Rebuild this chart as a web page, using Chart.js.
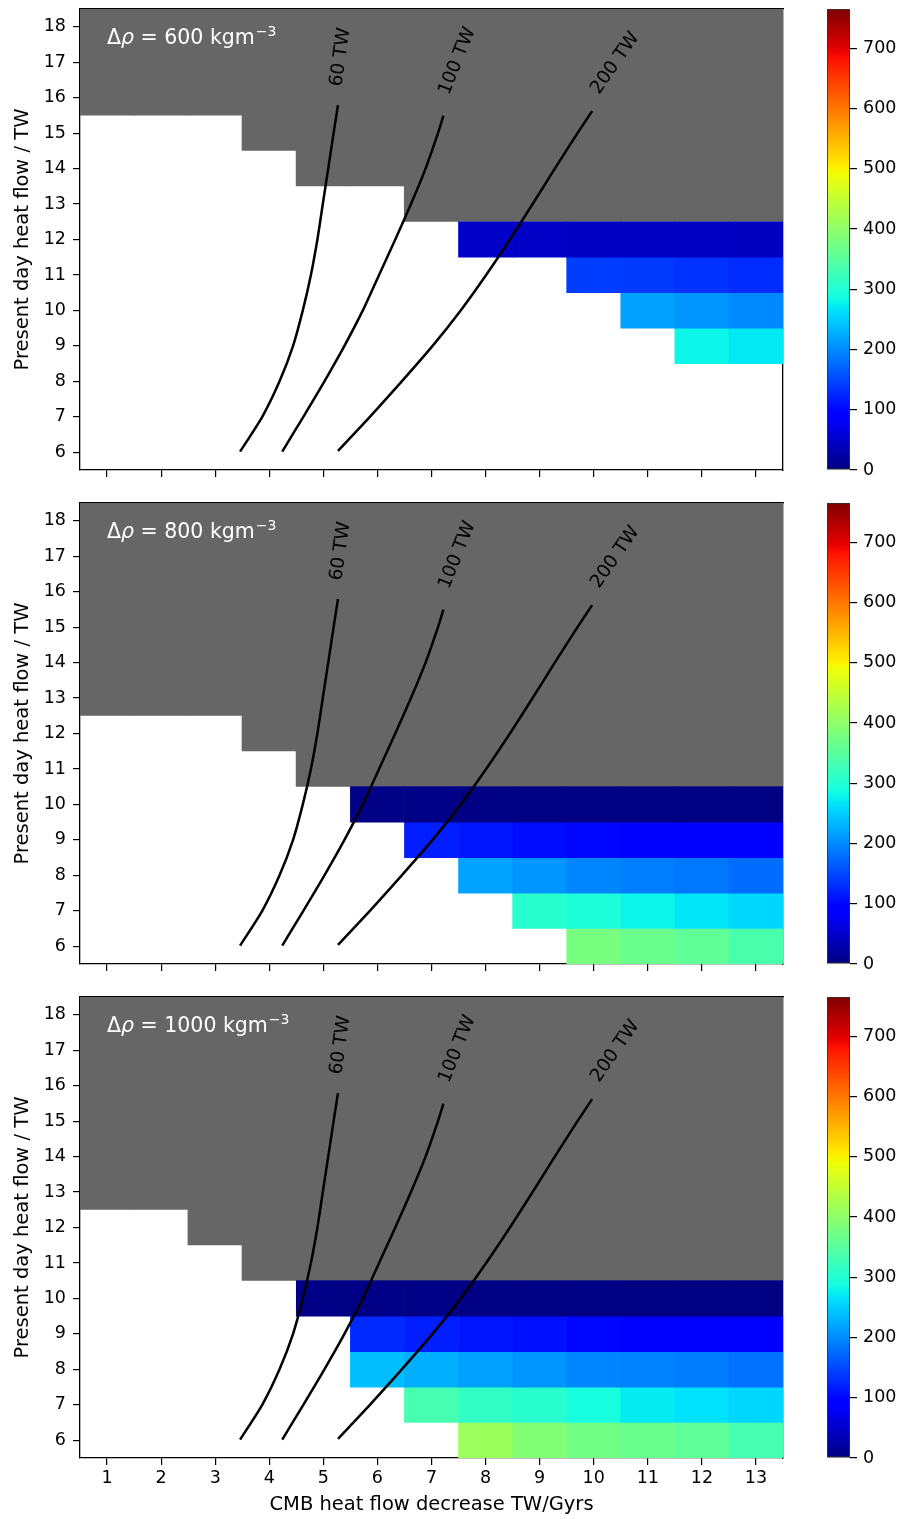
<!DOCTYPE html>
<html>
<head>
<meta charset="utf-8">
<script src="https://cdn.jsdelivr.net/npm/chart.js@4.4.0/dist/chart.umd.min.js"></script>
<style>
  html, body { margin: 0; padding: 0; background: #fff; }
  #fig { position: relative; width: 904px; height: 1519px; }
  canvas { position: absolute; left: 0; }
</style>
</head>
<body>
<div id="fig">
  <canvas id="p600" width="800" height="494" style="top:0px"></canvas>
  <canvas id="c600" width="104" height="494" style="top:0px;left:800px"></canvas>
  <canvas id="p800" width="800" height="494" style="top:494px"></canvas>
  <canvas id="c800" width="104" height="494" style="top:494px;left:800px"></canvas>
  <canvas id="p1000" width="800" height="531" style="top:988px"></canvas>
  <canvas id="c1000" width="104" height="531" style="top:988px;left:800px"></canvas>
</div>
<script>
// ---- data ----
const cols = [1, 2, 3, 4, 5, 6, 7, 8, 9, 10, 11, 12, 13];      // CMB heat flow decrease
const valueRows = [6, 7, 8, 9, 10, 11, 12];                     // present day heat flow
const xTicks = cols;
const yTicks = [6, 7, 8, 9, 10, 11, 12, 13, 14, 15, 16, 17, 18];
const cbarTicks = [0, 100, 200, 300, 400, 500, 600, 700];
const cbarMax = 765;
const yTop = 18.5;

// first masked (grey) row of every column
const grey600 = [16, 16, 16, 15, 14, 14, 13, 13, 13, 13, 13, 13, 13];
const grey800 = [13, 13, 13, 12, 11, 11, 11, 11, 11, 11, 11, 11, 11];
const grey1000 = [13, 13, 12, 11, 11, 11, 11, 11, 11, 11, 11, 11, 11];

// cell values, rows 6..12, columns 1..13 (null = no solution)
const N = null;
const val600 = [
  [N, N, N, N, N, N, N, N, N, N, N, N, N],
  [N, N, N, N, N, N, N, N, N, N, N, N, N],
  [N, N, N, N, N, N, N, N, N, N, N, N, N],
  [N, N, N, N, N, N, N, N, N, N, N, 280, 270],
  [N, N, N, N, N, N, N, N, N, N, 216, 208, 199],
  [N, N, N, N, N, N, N, N, N, 142, 138, 132, 128],
  [N, N, N, N, N, N, N, 48, 47, 46, 45, 44, 43]
];
const val800 = [
  [N, N, N, N, N, N, N, N, N, 379, 366, 357, 337],
  [N, N, N, N, N, N, N, N, 305, 295, 280, 268, 257],
  [N, N, N, N, N, N, N, 219, 208, 197, 191, 185, 177],
  [N, N, N, N, N, N, 118, 112, 104, 99, 95, 92, 88],
  [N, N, N, N, N, 4, 4, 3, 3, 3, 2, 2, 2],
  [N, N, N, N, N, N, N, N, N, N, N, N, N],
  [N, N, N, N, N, N, N, N, N, N, N, N, N]
];
const val1000 = [
  [N, N, N, N, N, N, N, 412, 389, 373, 366, 355, 333],
  [N, N, N, N, N, N, 333, 314, 305, 290, 272, 264, 257],
  [N, N, N, N, N, 238, 227, 216, 208, 197, 193, 189, 181],
  [N, N, N, N, N, 126, 118, 111, 107, 100, 95, 92, 90],
  [N, N, N, N, 4, 4, 4, 3, 3, 3, 2, 2, 2],
  [N, N, N, N, N, N, N, N, N, N, N, N, N],
  [N, N, N, N, N, N, N, N, N, N, N, N, N]
];

// contour lines (same in every panel)
const c60x = [3.46, 3.87, 4.19, 4.44, 4.62, 4.77, 4.89, 4.99, 5.09, 5.19, 5.27];
const c60y = [6.02, 7, 8, 9, 10, 11, 12, 13, 14, 15, 15.79];
const c100x = [4.24, 4.63, 5.02, 5.39, 5.73, 6.03, 6.33, 6.62, 6.89, 7.12, 7.22];
const c100y = [6.02, 7, 8, 9, 10, 11, 12, 13, 14, 15, 15.49];
const c200x = [5.27, 5.86, 6.45, 7.02, 7.54, 8.01, 8.45, 8.87, 9.28, 9.70, 9.97];
const c200y = [6.04, 7, 8, 9, 10, 11, 12, 13, 14, 15, 15.62];

// ---- jet colour map ----
const jetR = [[0, 0], [0.35, 0], [0.66, 1], [0.89, 1], [1, 0.5]];
const jetG = [[0, 0], [0.125, 0], [0.375, 1], [0.64, 1], [0.91, 0], [1, 0]];
const jetB = [[0, 0.5], [0.11, 1], [0.34, 1], [0.65, 0], [1, 0]];
function seg(s, t) {
  for (let i = 1; i < s.length; i++) {
    if (t <= s[i][0]) {
      const [x0, y0] = s[i - 1], [x1, y1] = s[i];
      return y0 + (y1 - y0) * (t - x0) / (x1 - x0);
    }
  }
  return s[s.length - 1][1];
}
function jet(t) {
  t = Math.min(1, Math.max(0, t));
  const c = v => Math.round(255 * v);
  return `rgb(${c(seg(jetR, t))},${c(seg(jetG, t))},${c(seg(jetB, t))})`;
}

const FONT = '"DejaVu Sans", sans-serif';

// text drawn on the plot (contour labels + density)
const contourLabels = [
  { text: '60 TW', x: 5.32, y: 17.14, rot: -82 },
  { text: '100 TW', x: 7.48, y: 17.03, rot: -68 },
  { text: '200 TW', x: 10.40, y: 16.97, rot: -55 }
];
const panelText = {
  id: 'panelText',
  afterDatasetsDraw(chart, args, opts) {
    const { ctx, scales: { x, y } } = chart;
    ctx.save();
    ctx.fillStyle = '#000';
    ctx.textAlign = 'center';
    ctx.textBaseline = 'middle';
    ctx.font = '18.5px ' + FONT;
    contourLabels.forEach(l => {
      ctx.save();
      ctx.translate(x.getPixelForValue(l.x), y.getPixelForValue(l.y));
      ctx.rotate(l.rot * Math.PI / 180);
      ctx.fillText(l.text, 0, 0);
      ctx.restore();
    });
    // Δρ = ... kgm^-3
    let px = x.getPixelForValue(1.0);
    const py = y.getPixelForValue(17.5);
    ctx.fillStyle = '#fff';
    ctx.textAlign = 'left';
    ctx.textBaseline = 'alphabetic';
    const parts = [['Δ', ''], ['ρ', 'italic '], [' = ' + opts.rho + ' kgm', '']];
    parts.forEach(([s, st]) => {
      ctx.font = st + '20.5px ' + FONT;
      ctx.fillText(s, px, py);
      px += ctx.measureText(s).width;
    });
    ctx.font = '14px ' + FONT;
    ctx.fillText('\u22123', px + 1, py - 8.5);
    ctx.restore();
  }
};

function line(xs, ys) {
  return {
    type: 'line',
    data: xs.map((v, i) => ({ x: v, y: ys[i] })),
    borderColor: '#000',
    borderWidth: 2.5,
    pointRadius: 0,
    tension: 0.25,
    xAxisID: 'x', yAxisID: 'y',
    order: 0
  };
}

function makePanel(id, rho, grey, vals, showX) {
  const greyData = cols.map((c, i) => ({ x: c, y: [grey[i] - 0.5, yTop] }));
  const cellData = [], cellColors = [];
  vals.forEach((row, r) => row.forEach((v, i) => {
    if (v === null) return;
    cellData.push({ x: cols[i], y: [valueRows[r] - 0.5, valueRows[r] + 0.5] });
    cellColors.push(jet(v / cbarMax));
  }));

  const tickFont = { family: FONT, size: 17.5 };
  const titleFont = { family: FONT, size: 19.5 };
  const frame = { display: true, color: '#000', width: 1.3 };

  new Chart(document.getElementById(id), {
    type: 'bar',
    data: {
      datasets: [
        line(c60x, c60y),
        line(c100x, c100y),
        line(c200x, c200y),
        {
          data: cellData,
          backgroundColor: cellColors,
          borderWidth: 0,
          grouped: false,
          barPercentage: 1,
          categoryPercentage: 1,
          xAxisID: 'x', yAxisID: 'y',
          order: 1
        },
        {
          data: greyData,
          backgroundColor: '#666666',
          borderWidth: 0,
          grouped: false,
          barPercentage: 1,
          categoryPercentage: 1.02,
          xAxisID: 'x', yAxisID: 'y',
          order: 2
        }
      ]
    },
    options: {
      responsive: false,
      animation: false,
      layout: { padding: 0 },
      plugins: {
        legend: { display: false },
        tooltip: { enabled: false },
        panelText: { rho: rho }
      },
      scales: {
        x: {
          type: 'linear',
          position: 'bottom',
          z: 1,
          min: 0.5,
          max: 13.5,
          offset: false,
          afterBuildTicks: a => { a.ticks = xTicks.map(v => ({ value: v })); },
          afterFit: s => { s.height = showX ? 61 : 24; s.paddingLeft = 0; s.paddingRight = 0; },
          grid: { display: true, drawOnChartArea: false, drawTicks: true, tickLength: 7, color: '#000', lineWidth: 1.2, offset: false },
          border: frame,
          ticks: { display: showX, color: '#000', font: tickFont, padding: 3, maxRotation: 0, autoSkip: false },
          title: { display: showX, text: 'CMB heat flow decrease TW/Gyrs', color: '#000', font: titleFont, padding: { top: 0, bottom: 2 } }
        },
        y: {
          type: 'linear',
          position: 'left',
          z: 1,
          min: 5.5,
          max: yTop,
          afterBuildTicks: a => { a.ticks = yTicks.map(v => ({ value: v })); },
          afterFit: s => { s.width = 80; s.paddingTop = 0; s.paddingBottom = 0; },
          grid: { display: true, drawOnChartArea: false, drawTicks: true, tickLength: 7, color: '#000', lineWidth: 1.2 },
          border: frame,
          ticks: { color: '#000', font: tickFont, padding: 7, autoSkip: false },
          title: { display: true, text: 'Present day heat flow / TW', color: '#000', font: titleFont, padding: { top: 11, bottom: 0 } }
        },
        x2: {
          type: 'linear',
          position: 'top',
          z: 1,
          min: 0.5,
          max: 13.5,
          afterFit: s => { s.height = 9; s.paddingLeft = 0; s.paddingRight = 0; },
          grid: { display: false },
          ticks: { display: false },
          border: frame
        },
        y2: {
          type: 'linear',
          position: 'right',
          z: 1,
          min: 5.5,
          max: yTop,
          afterFit: s => { s.width = 17; s.paddingTop = 0; s.paddingBottom = 0; },
          grid: { display: false },
          ticks: { display: false },
          border: frame
        }
      }
    },
    plugins: [panelText]
  });
}

function makeColorbar(id, bottomPad) {
  new Chart(document.getElementById(id), {
    type: 'bar',
    data: {
      labels: [''],
      datasets: [{
        data: [[0, cbarMax]],
        backgroundColor: ctx => {
          const chart = ctx.chart;
          if (!chart.chartArea) return '#888';
          const ys = chart.scales.y;
          const g = chart.ctx.createLinearGradient(0, ys.getPixelForValue(0), 0, ys.getPixelForValue(cbarMax));
          for (let i = 0; i <= 200; i++) g.addColorStop(i / 200, jet(i / 200));
          return g;
        },
        borderColor: '#333',
        borderWidth: 1.2,
        borderSkipped: false,
        barPercentage: 1,
        categoryPercentage: 1
      }]
    },
    options: {
      responsive: false,
      animation: false,
      layout: { padding: { left: 27, top: 9, bottom: bottomPad, right: 0 } },
      plugins: { legend: { display: false }, tooltip: { enabled: false } },
      scales: {
        x: { display: false },
        y: {
          position: 'right',
          min: 0,
          max: cbarMax,
          afterBuildTicks: a => { a.ticks = cbarTicks.map(v => ({ value: v })); },
          afterFit: s => { s.width = 54; s.paddingTop = 0; s.paddingBottom = 0; },
          grid: { display: true, drawOnChartArea: false, drawTicks: true, tickLength: 7, color: '#000', lineWidth: 1.2 },
          border: { display: false },
          ticks: { color: '#000', font: { family: FONT, size: 17.5 }, padding: 6, autoSkip: false }
        }
      }
    }
  });
}

makePanel('p600', 600, grey600, val600, false);
makePanel('p800', 800, grey800, val800, false);
makePanel('p1000', 1000, grey1000, val1000, true);
makeColorbar('c600', 24);
makeColorbar('c800', 24);
makeColorbar('c1000', 61);
</script>
</body>
</html>
